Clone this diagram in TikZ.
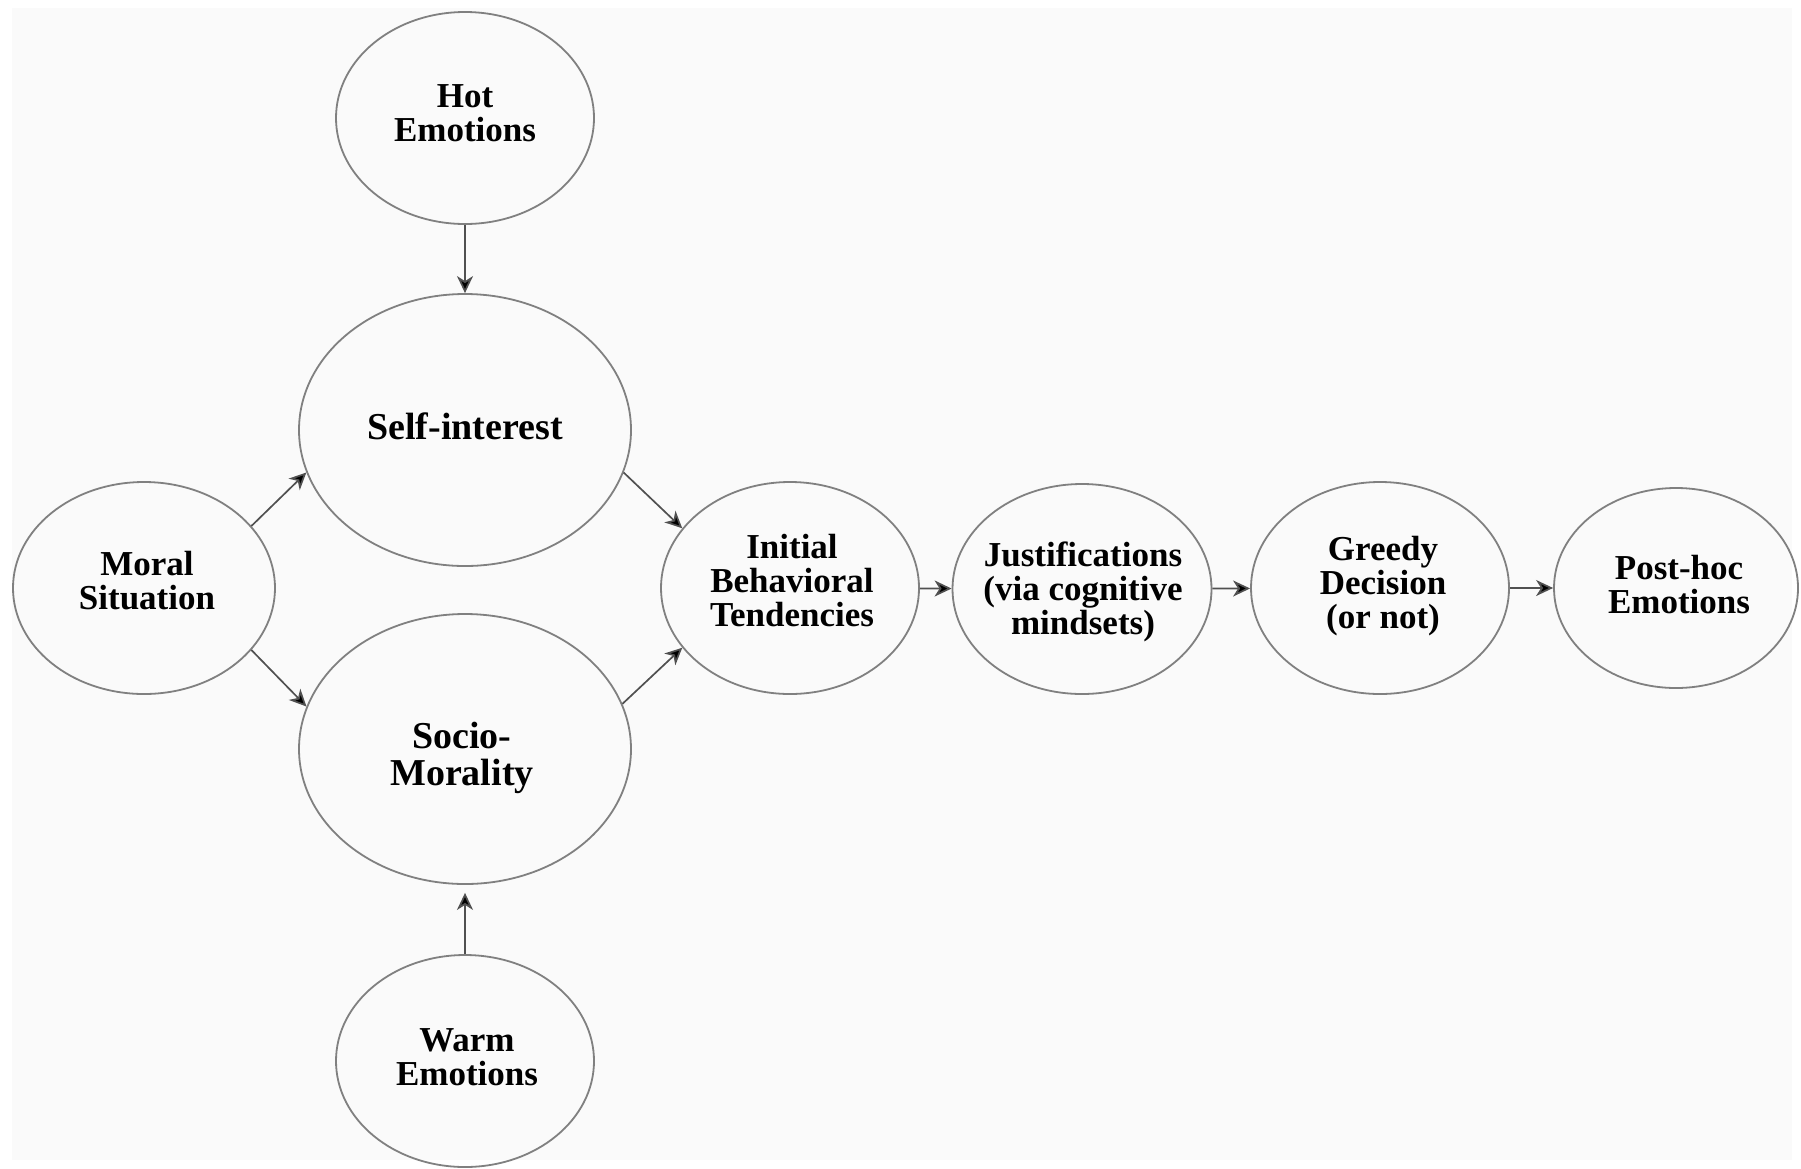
\documentclass[tikz,border=0pt]{standalone}
\usepackage{fontspec}
\setmainfont{Liberation Serif}
\usetikzlibrary{shapes.geometric,arrows.meta}
\definecolor{bgpaper}{HTML}{FAFAFA}
\definecolor{ringgray}{HTML}{808080}
\definecolor{shaftgray}{HTML}{505050}
\begin{document}
\begin{tikzpicture}[x=1pt,y=-1pt,
  oval/.style={ellipse, draw=ringgray, line width=1.8pt, inner sep=0pt,
    minimum width=258pt, minimum height=212pt},
  bigoval/.style={oval, minimum width=332pt, minimum height=272pt},
  txt/.style={align=center, font=\fontsize{35}{34}\selectfont\bfseries, inner sep=0pt},
  bigtxt/.style={align=center, font=\fontsize{38}{37}\selectfont\bfseries, inner sep=0pt},
  arr/.style={draw=shaftgray, line width=1.7pt, -{Stealth[length=17pt,width=16pt,inset=5pt,fill=black]}}]
\useasboundingbox (0,0) rectangle (1801,1168);
\fill[white] (0,0) rectangle (1801,1168);
\fill[bgpaper] (12,8) rectangle (1792,1160);

\node[oval] (hot) at (465,118) {};
\node[txt] (hott) at (465,113) {Hot\\Emotions};
\node[bigoval] (self) at (465,430) {};
\node[bigtxt] (selft) at (465,426) {Self-interest};
\node[oval, minimum width=262pt] (moral) at (144,588) {};
\node[txt] (moralt) at (147,581) {Moral\\Situation};
\node[bigoval, minimum height=270pt] (socio) at (465,749) {};
\node[bigtxt] (sociot) at (462,758) {Socio-\\Morality};
\node[oval] (warm) at (465,1061) {};
\node[txt] (warmt) at (467,1057) {Warm\\Emotions};
\node[oval] (init) at (790,588) {};
\node[txt] (initt) at (792,581) {Initial\\Behavioral\\Tendencies};
\node[oval, minimum width=259pt, minimum height=210pt] (just) at (1082,589) {};
\node[txt] (justt) at (1083,592) {Justifications\\(via cognitive\\mindsets)};
\node[oval] (greedy) at (1380,588) {};
\node[txt] (greedyt) at (1383,586) {Greedy\\Decision\\(or not)};
\node[oval, minimum width=244pt, minimum height=200pt] (post) at (1676,588) {};
\node[txt] (postt) at (1679,585) {Post-hoc\\Emotions};

\draw[arr] (hot.south) -- (self.north);
\draw[arr, shorten >=8pt] (warm.north) -- (socio.south);
\draw[arr] (moral.30) -- (self.195);
\draw[arr] (moral.-30) -- (socio.165);
\draw[arr] (self.-15) -- (init.151);
\draw[arr] (socio.16) -- (init.209);
\draw[arr] (init) -- (just);
\draw[arr] (just) -- (greedy);
\draw[arr] (greedy) -- (post);
\end{tikzpicture}
\end{document}
